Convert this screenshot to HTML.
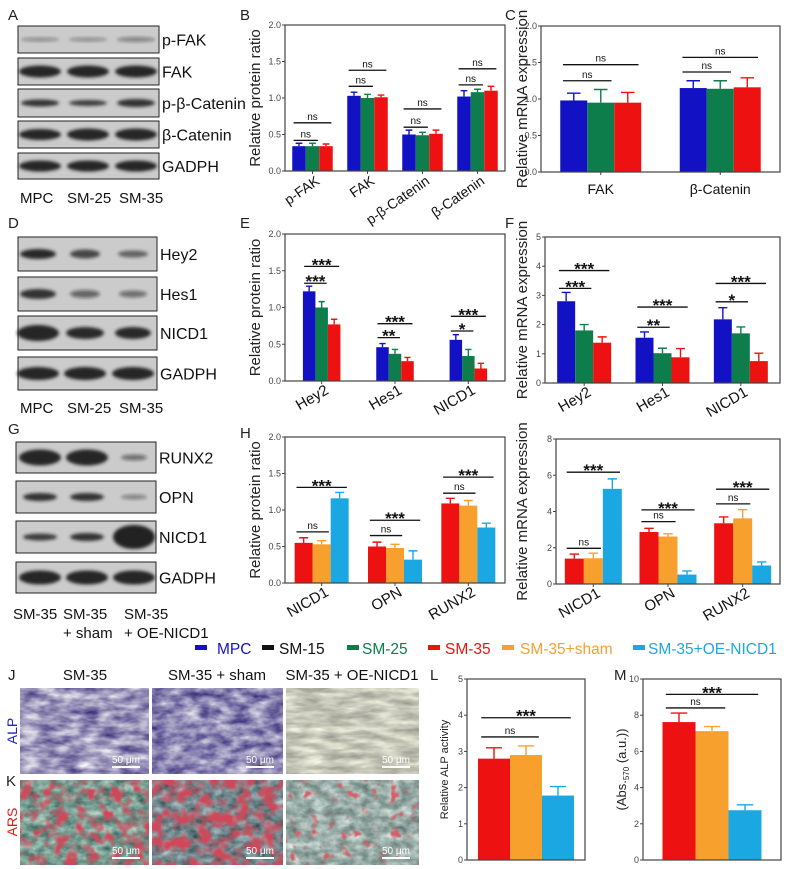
<!DOCTYPE html>
<html><head><meta charset="utf-8"><style>
html,body{margin:0;padding:0;background:#fff;}
#wrap{position:relative;width:789px;height:869px;overflow:hidden;font-family:"Liberation Sans",sans-serif;}
svg{position:absolute;left:0;top:0;}
</style></head><body>
<div id="wrap">
<svg id="svg" width="789" height="869" viewBox="0 0 789 869">
<defs>
<filter id="blur" x="-20%" y="-50%" width="140%" height="200%"><feGaussianBlur stdDeviation="1.6"/></filter>
<filter id="alpA" x="0" y="0" width="1" height="1" color-interpolation-filters="sRGB">
 <feTurbulence type="fractalNoise" baseFrequency="0.05 0.13" numOctaves="3" seed="3" result="n"/>
 <feColorMatrix in="n" type="matrix" values="0.9 0 0 0 0.16  0.95 0 0 0 0.11  0.6 0 0 0 0.43  0 0 0 0 1"/>
</filter>
<filter id="alpB" x="0" y="0" width="1" height="1" color-interpolation-filters="sRGB">
 <feTurbulence type="fractalNoise" baseFrequency="0.06 0.12" numOctaves="3" seed="9" result="n"/>
 <feColorMatrix in="n" type="matrix" values="0.9 0 0 0 0.1  0.95 0 0 0 0.05  0.6 0 0 0 0.4  0 0 0 0 1"/>
</filter>
<filter id="alpC" x="0" y="0" width="1" height="1" color-interpolation-filters="sRGB">
 <feTurbulence type="fractalNoise" baseFrequency="0.04 0.15" numOctaves="3" seed="5" result="n"/>
 <feColorMatrix in="n" type="matrix" values="0.5 0 0 0 0.53  0.5 0 0 0 0.53  0.45 0 0 0 0.5  0 0 0 0 1"/>
</filter>
<filter id="arsA" x="0" y="0" width="1" height="1" color-interpolation-filters="sRGB">
 <feTurbulence type="fractalNoise" baseFrequency="0.08 0.12" numOctaves="3" seed="2" result="n1"/>
 <feColorMatrix in="n1" type="matrix" values="0.7 0 0 0 0.12  0.65 0 0 0 0.3  0.6 0 0 0 0.28  0 0 0 0 1" result="bg"/>
 <feTurbulence type="fractalNoise" baseFrequency="0.09" numOctaves="2" seed="7" result="n2"/>
 <feColorMatrix in="n2" type="matrix" values="0 0 0 0 0.82  0 0 0 0 0.28  0 0 0 0 0.35  3.5 0 0 0 -1.55" result="red"/>
 <feComposite in="red" in2="bg" operator="over"/>
</filter>
<filter id="arsB" x="0" y="0" width="1" height="1" color-interpolation-filters="sRGB">
 <feTurbulence type="fractalNoise" baseFrequency="0.08 0.12" numOctaves="3" seed="4" result="n1"/>
 <feColorMatrix in="n1" type="matrix" values="0.7 0 0 0 0.1  0.65 0 0 0 0.22  0.65 0 0 0 0.24  0 0 0 0 1" result="bg"/>
 <feTurbulence type="fractalNoise" baseFrequency="0.08" numOctaves="2" seed="11" result="n2"/>
 <feColorMatrix in="n2" type="matrix" values="0 0 0 0 0.82  0 0 0 0 0.28  0 0 0 0 0.35  3.5 0 0 0 -1.4" result="red"/>
 <feComposite in="red" in2="bg" operator="over"/>
</filter>
<filter id="arsC" x="0" y="0" width="1" height="1" color-interpolation-filters="sRGB">
 <feTurbulence type="fractalNoise" baseFrequency="0.08 0.12" numOctaves="3" seed="6" result="n1"/>
 <feColorMatrix in="n1" type="matrix" values="0.65 0 0 0 0.28  0.6 0 0 0 0.38  0.6 0 0 0 0.36  0 0 0 0 1" result="bg"/>
 <feTurbulence type="fractalNoise" baseFrequency="0.1" numOctaves="2" seed="13" result="n2"/>
 <feColorMatrix in="n2" type="matrix" values="0 0 0 0 0.82  0 0 0 0 0.38  0 0 0 0 0.42  6 0 0 0 -3.6" result="red"/>
 <feComposite in="red" in2="bg" operator="over"/>
</filter>
</defs>
</svg>
</div>
<script>
// ---- data ----
const bCats=["p-FAK","FAK","p-β-Catenin","β-Catenin"];
const bMPC=[0.34,1.03,0.50,1.02];
const bSM25=[0.34,1.00,0.49,1.08];
const bSM35=[0.34,1.01,0.51,1.10];
const bErrMPC=[0.04,0.05,0.06,0.08];
const bErrSM25=[0.04,0.05,0.04,0.04];
const bErrSM35=[0.03,0.03,0.05,0.06];
const bAnn=[[0,0,1,0.42,"ns"],[0,0,2,0.66,"ns"],[1,0,1,1.16,"ns"],[1,0,2,1.38,"ns"],[2,0,1,0.60,"ns"],[2,0,2,0.85,"ns"],[3,0,1,1.18,"ns"],[3,0,2,1.40,"ns"]];
const cCats=["FAK","β-Catenin"];
const cMPC=[0.98,1.15];
const cSM25=[0.95,1.14];
const cSM35=[0.95,1.16];
const cErrMPC=[0.10,0.10];
const cErrSM25=[0.18,0.11];
const cErrSM35=[0.14,0.13];
const cAnn=[[0,0,1,1.25,"ns"],[0,0,2,1.47,"ns"],[1,0,1,1.37,"ns"],[1,0,2,1.57,"ns"]];
const eCats=["Hey2","Hes1","NICD1"];
const eMPC=[1.22,0.46,0.56];
const eSM25=[1.00,0.37,0.34];
const eSM35=[0.77,0.27,0.17];
const eErrMPC=[0.07,0.05,0.07];
const eErrSM25=[0.08,0.06,0.09];
const eErrSM35=[0.07,0.05,0.07];
const eAnn=[[0,0,1,1.33,"***"],[0,0,2,1.56,"***"],[1,0,1,0.59,"**"],[1,0,2,0.78,"***"],[2,0,1,0.68,"*"],[2,0,2,0.88,"***"]];
const fCats=["Hey2","Hes1","NICD1"];
const fMPC=[2.80,1.55,2.18];
const fSM25=[1.80,1.02,1.70];
const fSM35=[1.38,0.88,0.75];
const fErrMPC=[0.30,0.20,0.40];
const fErrSM25=[0.20,0.17,0.22];
const fErrSM35=[0.20,0.30,0.27];
const fAnn=[[0,0,1,3.24,"***"],[0,0,2,3.85,"***"],[1,0,1,1.91,"**"],[1,0,2,2.60,"***"],[2,0,1,2.78,"*"],[2,0,2,3.41,"***"]];
const hCats=["NICD1","OPN","RUNX2"];
const hSM35=[0.55,0.50,1.09];
const hSham=[0.53,0.48,1.06];
const hOE=[1.16,0.32,0.76];
const hErrSM35=[0.07,0.06,0.07];
const hErrSham=[0.05,0.05,0.07];
const hErrOE=[0.08,0.12,0.06];
const hAnn=[[0,0,1,0.70,"ns"],[0,0,2,1.31,"***"],[1,0,1,0.65,"ns"],[1,0,2,0.86,"***"],[2,0,1,1.23,"ns"],[2,0,2,1.45,"***"]];
const iCats=["NICD1","OPN","RUNX2"];
const iSM35=[1.40,2.87,3.35];
const iSham=[1.42,2.62,3.62];
const iOE=[5.25,0.52,1.02];
const iErrSM35=[0.25,0.20,0.35];
const iErrSham=[0.28,0.15,0.48];
const iErrOE=[0.55,0.20,0.20];
const iAnn=[[0,0,1,1.97,"ns"],[0,0,2,6.17,"***"],[1,0,1,3.44,"ns"],[1,0,2,4.09,"***"],[2,0,1,4.42,"ns"],[2,0,2,5.23,"***"]];
const lCats=[""];
const lSM35=[2.80];
const lSham=[2.90];
const lOE=[1.78];
const lErrSM35=[0.30];
const lErrSham=[0.25];
const lErrOE=[0.25];
const lAnn=[[0,0,1,3.40,"ns"],[0,0,2,3.93,"***"]];
const mCats=[""];
const mSM35=[7.62];
const mSham=[7.12];
const mOE=[2.75];
const mErrSM35=[0.50];
const mErrSham=[0.25];
const mErrOE=[0.30];
const mAnn=[[0,0,1,8.40,"ns"],[0,0,2,9.15,"***"]];
const ticks2=[0,0.5,1,1.5,2];
const ticksF=[0,1,2,3,4,5];
const ticksI=[0,2,4,6,8];
const ticksL=[0,1,2,3,4,5];
const ticksM=[0,2,4,6,8,10];
const legendNames=["MPC","SM-15","SM-25","SM-35","SM-35+sham","SM-35+OE-NICD1"];

const BLUE="#1212c4",GREEN="#0d7d4c",RED="#ee1111",ORANGE="#f7a02e",CYAN="#1ba8e2",BLACK="#111";
const NS="http://www.w3.org/2000/svg";
const svg=document.getElementById('svg');
function mk(tag,attrs,parent){const e=document.createElementNS(NS,tag);for(const k in attrs)e.setAttribute(k,attrs[k]);(parent||svg).appendChild(e);return e;}
function txt(s,x,y,size,opts,parent){const o=Object.assign({x:x,y:y,'font-size':size,'font-family':'Liberation Sans, sans-serif',fill:'#111'},opts||{});const t=mk('text',o,parent);t.textContent=s;return t;}

function drawChart(c){
  const g=mk('g',{});
  
  
  const ymax=c.ticks[c.ticks.length-1];
  const Y=v=>c.y1-(v/ymax)*(c.y1-c.y0);
  const n=c.cats.length, gw=(c.x1-c.x0)/n, ns=c.series.length;
  const cx=i=>c.x0+(i+0.5)*gw;
  const bx=(i,j)=>cx(i)-ns*c.bw/2+j*c.bw;
  for(let i=0;i<n;i++){for(let j=0;j<ns;j++){
    const v=c.series[j][i],e=c.errs[j][i],x=bx(i,j);
    const r=mk('rect',{x:x,y:Y(v),width:c.bw,height:c.y1-Y(v),fill:c.colors[j]},g);
    
    
    const eb=mk('path',{d:`M${x+c.bw/2} ${Y(v)}V${Y(v+e)}M${x+c.bw*0.25} ${Y(v+e)}H${x+c.bw*0.75}`,stroke:c.colors[j],'stroke-width':1.4,fill:'none'},g);
    
    
  }}
  const fr=mk('rect',{x:c.x0,y:c.y0,width:c.x1-c.x0,height:c.y1-c.y0,fill:'none',stroke:'#444','stroke-width':1.2},g);
  
  
  c.ticks.forEach(t=>{
    const tk=mk('line',{x1:c.x0-3,x2:c.x0,y1:Y(t),y2:Y(t),stroke:'#444','stroke-width':1},g);
    
    
    const tl=txt(t.toFixed(c.dec),c.x0-4,Y(t)+3,9,{'text-anchor':'end',fill:'#444'},g);
    
    
  });
  for(let i=0;i<n;i++){
    if(!c.cats[i])continue;
    const xt=mk('line',{x1:cx(i),x2:cx(i),y1:c.y1,y2:c.y1+3,stroke:'#444'},g);
    
    
    let cl;
    if(c.rot){cl=txt(c.cats[i],cx(i)+8,c.y1+12,c.cfs||14,{'text-anchor':'end',transform:`rotate(${c.rot} ${cx(i)+8} ${c.y1+12})`},g);}
    else{cl=txt(c.cats[i],cx(i),c.y1+22,14,{'text-anchor':'middle'},g);}
    
    
  }
  c.ann.forEach(a=>{
    const x1=bx(a[0],a[1])+c.bw*0.1,x2=bx(a[0],a[2])+c.bw*0.9,y=Y(a[3]);
    const ln=mk('line',{x1:x1,x2:x2,y1:y,y2:y,stroke:'#111','stroke-width':1.3},g);
    
    
    const star=a[4]!=="ns";
    const st=txt(a[4],(x1+x2)/2,star?y+4:y-3,star?17:10,{'text-anchor':'middle','font-weight':star?'bold':'normal'},g);
    
    
  });
  const yt=txt(c.title,c.tx,(c.y0+c.y1)/2,c.tfs||15,{'text-anchor':'middle',transform:`rotate(-90 ${c.tx} ${(c.y0+c.y1)/2})`,fill:'#222'},g);
  
  
  return yt;
}

drawChart({name:'chart-b',x0:285,x1:505,y0:25,y1:171,ticks:ticks2,dec:1,cats:bCats,series:[bMPC,bSM25,bSM35],errs:[bErrMPC,bErrSM25,bErrSM35],colors:[BLUE,GREEN,RED],bw:13.5,ann:bAnn,title:'Relative protein ratio',tx:260,rot:-35});
drawChart({name:'chart-c',x0:541,x1:780,y0:26,y1:172,ticks:ticks2,dec:1,cats:cCats,series:[cMPC,cSM25,cSM35],errs:[cErrMPC,cErrSM25,cErrSM35],colors:[BLUE,GREEN,RED],bw:27,ann:cAnn,title:'Relative mRNA expression',tx:527});
drawChart({name:'chart-e',x0:285,x1:505,y0:234,y1:381,ticks:ticks2,dec:1,cats:eCats,series:[eMPC,eSM25,eSM35],errs:[eErrMPC,eErrSM25,eErrSM35],colors:[BLUE,GREEN,RED],bw:12.5,ann:eAnn,title:'Relative protein ratio',tx:260,rot:-30,cfs:15});
drawChart({name:'chart-f',x0:545,x1:780,y0:237,y1:383,ticks:ticksF,dec:0,cats:fCats,series:[fMPC,fSM25,fSM35],errs:[fErrMPC,fErrSM25,fErrSM35],colors:[BLUE,GREEN,RED],bw:18,ann:fAnn,title:'Relative mRNA expression',tx:527,rot:-30,cfs:15});
drawChart({name:'chart-h',x0:285,x1:505,y0:437,y1:583,ticks:ticks2,dec:1,cats:hCats,series:[hSM35,hSham,hOE],errs:[hErrSM35,hErrSham,hErrOE],colors:[RED,ORANGE,CYAN],bw:18,ann:hAnn,title:'Relative protein ratio',tx:260,rot:-30,cfs:15});
drawChart({name:'chart-i',x0:556,x1:780,y0:439,y1:584,ticks:ticksI,dec:0,cats:iCats,series:[iSM35,iSham,iOE],errs:[iErrSM35,iErrSham,iErrOE],colors:[RED,ORANGE,CYAN],bw:19,ann:iAnn,title:'Relative mRNA expression',tx:527,rot:-30,cfs:15});
drawChart({name:'chart-l',x0:467,x1:585,y0:679,y1:860,ticks:ticksL,dec:0,cats:lCats,series:[lSM35,lSham,lOE],errs:[lErrSM35,lErrSham,lErrOE],colors:[RED,ORANGE,CYAN],bw:32,ann:lAnn,title:'Relative ALP activity',tx:448,tfs:11});
const mt=drawChart({name:'chart-m',x0:643,x1:781,y0:679,y1:860,ticks:ticksM,dec:0,cats:mCats,series:[mSM35,mSham,mOE],errs:[mErrSM35,mErrSham,mErrOE],colors:[RED,ORANGE,CYAN],bw:33,ann:mAnn,title:'',tx:626,tfs:13});
mt.textContent='';
const t1=mk('tspan',{},mt);t1.textContent='(Abs.';
const t2=mk('tspan',{'font-size':8,dy:3},mt);t2.textContent='570';
const t3=mk('tspan',{dy:-3},mt);t3.textContent=' (a.u.))';

// panel letters
[["A",8,20],["B",240,20],["C",505,20],["D",8,228],["E",240,228],["F",505,228],["G",8,434],["H",240,438],["J",8,680],["K",6,786],["L",430,680],["M",614,680]].forEach(p=>{
  const t=txt(p[0],p[1],p[2],15,{fill:'#222'});
  
  
});

// western blots
function blot(name,x,y,w,h,label,lanes,bands){
  const b=mk('rect',{x:x,y:y,width:w,height:h,fill:'#cbcbcb',stroke:'#222','stroke-width':1});
  
  
  lanes.forEach((lx,i)=>{
    const bd=bands[i];
    const e=mk('ellipse',{cx:lx,cy:y+h/2,rx:bd[0],ry:bd[1],fill:'#1a1a1a','fill-opacity':bd[2],filter:'url(#blur)'});
    
    
  });
  const t=txt(label,x+w+3,y+h/2+6,16,{});
  
  
}
const LA=[40,88,136];
blot('p-fak-a',18,26,141,27,'p-FAK',LA,[[19,2,0.35],[19,2,0.35],[19,2.5,0.4]]);
blot('fak-a',18,58,141,27,'FAK',LA,[[21,6,0.95],[21,6,0.95],[21,6,0.95]]);
blot('p-bcat-a',18,89,141,28,'p-β-Catenin',LA,[[19,3.5,0.85],[19,3,0.8],[19,4,0.85]]);
blot('bcat-a',18,121,141,27,'β-Catenin',LA,[[21,5.5,0.95],[21,6,0.95],[21,6,0.95]]);
blot('gadph-a',18,153,141,26,'GADPH',LA,[[21,5.5,0.95],[21,5.5,0.95],[21,5.5,0.95]]);
const LD=[38,85,133];
blot('hey2-d',18,237,139,34,'Hey2',LD,[[18,5,0.9],[15,4.5,0.75],[15,3.5,0.6]]);
blot('hes1-d',18,277,139,34,'Hes1',LD,[[18,5,0.85],[15,4,0.55],[14,3.5,0.5]]);
blot('nicd1-d',18,316,139,34,'NICD1',LD,[[21,8,0.95],[19,6,0.9],[18,6,0.9]]);
blot('gadph-d',18,357,139,33,'GADPH',LD,[[21,6.5,0.95],[21,6.5,0.95],[21,6.5,0.95]]);
const LG=[40,87,134];
blot('runx2-g',16,442,140,31,'RUNX2',LG,[[21,8,0.95],[21,8,0.95],[13,3,0.5]]);
blot('opn-g',16,481,140,32,'OPN',LG,[[17,4,0.85],[17,4,0.85],[13,2.5,0.4]]);
blot('nicd1-g',16,521,140,32,'NICD1',LG,[[17,3.5,0.8],[17,4,0.85],[21,12,0.97]]);
blot('gadph-g',16,562,140,31,'GADPH',LG,[[21,7,0.95],[21,7,0.95],[21,7,0.95]]);

[["MPC",20,203],["SM-25",67,203],["SM-35",119,203],["MPC",20,413],["SM-25",67,413],["SM-35",119,413],
 ["SM-35",13,619],["SM-35",63,619],["SM-35",124,619],["+ sham",63,638],["+ OE-NICD1",124,638]].forEach(p=>{
  const t=txt(p[0],p[1],p[2],15,{});
  
  
});

// legend
const legColors=[BLUE,BLACK,GREEN,RED,ORANGE,CYAN];
const legMark=[195,262,347,428,502,633];
const legText=[217,279,362,445,520,648];
legendNames.forEach((nm,i)=>{
  const r=mk('rect',{x:legMark[i],y:645,width:12,height:5,fill:legColors[i]});
  
  
  const t=txt(nm,legText[i],654,15.5,{fill:legColors[i]});
  
  
});

// microscopy images
function micro(name,x,y,w,h,filt){
  const r=mk('rect',{x:x,y:y,width:w,height:h,fill:'#999',filter:'url(#'+filt+')'});
  
  
  const sb=mk('rect',{x:x+w-37,y:y+h-8,width:28,height:2,fill:'#fff'});
  
  
  const st=txt('50 μm',x+w-23,y+h-11,10,{'text-anchor':'middle',fill:'#fff'});
  
  
}
micro('alp-image-sm35',20,688,129,86,'alpA');
micro('alp-image-sham',152,688,131,86,'alpB');
micro('alp-image-oe',286,688,133,86,'alpC');
micro('ars-image-sm35',20,780,129,85,'arsA');
micro('ars-image-sham',152,780,131,85,'arsB');
micro('ars-image-oe',286,780,133,85,'arsC');

[["SM-35",85],["SM-35 + sham",217],["SM-35 + OE-NICD1",352]].forEach(p=>{
  const t=txt(p[0],p[1],680,15,{'text-anchor':'middle'});
  
  
});
const alp=txt('ALP',17,731,14,{'text-anchor':'middle',fill:'#2222cc',transform:'rotate(-90 17 731)'});


const ars=txt('ARS',17,822,14,{'text-anchor':'middle',fill:'#e01a1a',transform:'rotate(-90 17 822)'});


</script>
</body></html>
